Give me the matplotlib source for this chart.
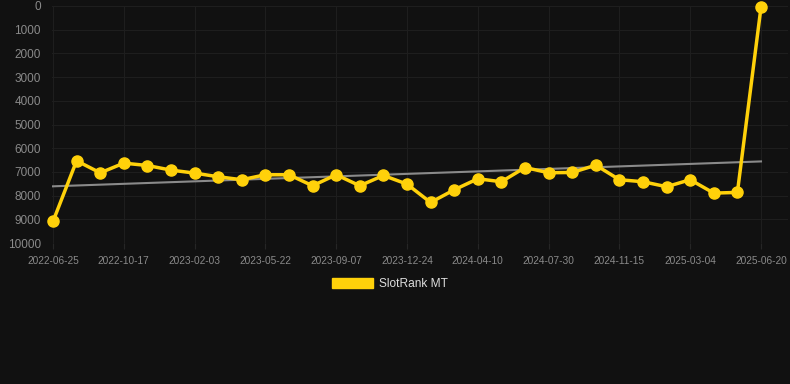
import matplotlib.pyplot as plt
import numpy as np
from matplotlib.patches import Patch

plt.rcParams['font.family'] = ['Liberation Sans', 'DejaVu Sans']

# rank values, one point every ~36 days, labels on every 3rd point
ranks = [9090, 6530, 7040, 6630, 6730, 6925, 7050, 7205, 7330, 7120,
         7120, 7585, 7120, 7585, 7150, 7515, 8290, 7755, 7290, 7415,
         6815, 7035, 7025, 6715, 7330, 7415, 7625, 7330, 7895, 7865, 55]
tick_labels = ['2022-06-25', '2022-10-17', '2023-02-03', '2023-05-22',
               '2023-09-07', '2023-12-24', '2024-04-10', '2024-07-30',
               '2024-11-15', '2025-03-04', '2025-06-20']
series_name = 'SlotRank MT'

bg = '#111111'
gold = '#FFD10A'

x = np.arange(len(ranks))
y = np.array(ranks, dtype=float)

# linear trend
k, b = np.polyfit(x, y, 1)
trend = k * x + b

fig = plt.figure(figsize=(7.9, 3.84), dpi=100, facecolor=bg)
ax = fig.add_axes([52 / 790, 1 - 243 / 384, 736 / 790, 237 / 384])
ax.set_facecolor(bg)

ax.plot(x, trend, color='#8a8a8a', lw=1.5, zorder=2)
ax.plot(x, y, color=gold, lw=2.5, marker='o', markersize=8, zorder=3,
        clip_on=False)

ax.set_ylim(10000, 0)
ax.set_yticks(np.arange(0, 10001, 1000))
ax.set_xlim(-1 / 23.6, 30 + 27 / 23.6)
ax.set_xticks(x[::3])
ax.set_xticklabels(tick_labels)

ax.grid(True, color='#1e1e1e', lw=0.8)
ax.set_axisbelow(True)
for s in ax.spines.values():
    s.set_visible(False)
ax.tick_params(axis='y', length=0, labelsize=8.5, labelcolor='#8a8a8a', pad=8)
ax.tick_params(axis='x', length=4, color='#262626', labelsize=7.3,
               labelcolor='#8a8a8a', pad=5)

fig.legend(handles=[Patch(facecolor=gold, edgecolor=gold)], labels=[series_name],
           loc='center', bbox_to_anchor=(390 / 790, 1 - 284 / 384),
           frameon=False, fontsize=8.6, labelcolor='#dddddd',
           handlelength=3.4, handleheight=1.0, handletextpad=0.5)

fig.savefig('out.png', dpi=100, facecolor=bg)
